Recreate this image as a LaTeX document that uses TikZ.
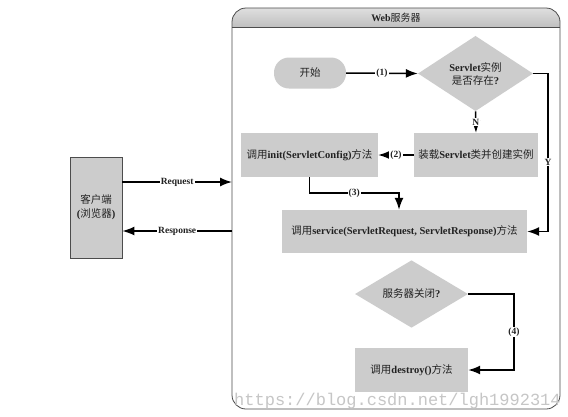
\documentclass[tikz,border=0pt]{standalone}
\usepackage{fontspec}
\setmainfont{Liberation Serif}
\setmonofont{Liberation Mono}
\newfontfamily\cjk{Noto Sans CJK SC}
\usetikzlibrary{shapes.geometric,arrows.meta,calc}
\definecolor{boxgray}{HTML}{CCCCCC}
\definecolor{txt}{HTML}{222222}
\begin{document}
\begin{tikzpicture}[x=1pt,y=-1pt,
  every node/.style={font=\fontsize{10.5}{13}\selectfont, text=txt},
  proc/.style={rectangle, fill=boxgray, inner sep=0pt, align=center},
  dia/.style={diamond, fill=boxgray, inner sep=0pt, align=center},
  arr/.style={line width=1.5pt, -{Latex[length=12pt,width=9pt]}},
  lbl/.style={fill=white, inner sep=1pt, font=\bfseries\fontsize{9.5}{11}\selectfont}]
\fill[white] (0,0) rectangle (568,416);
\useasboundingbox (0,0) rectangle (568,416);
% outer server box
\coordinate (boxTL) at (232,8);
\coordinate (boxBR) at (560,409);
\begin{scope}
\clip[rounded corners=14pt] (boxTL) rectangle (boxBR);
\shade[top color=gray!25, bottom color=gray!50] (232,8) rectangle (560,27);
\draw[gray!60!black, line width=0.8pt] (232,27) -- (560,27);
\end{scope}
\draw[gray!60!black, line width=0.8pt, rounded corners=14pt] (boxTL) rectangle (boxBR);
\node[font=\bfseries\fontsize{10}{12}\selectfont] (title) at (396,17.5) {Web{\cjk\mdseries 服务器}};
% client
\node[proc, draw=gray!60!black, line width=0.8pt, minimum width=52pt, minimum height=101pt] (client) at (96,207.5)
  {{\cjk 客户端}\\[1pt]\bfseries({\cjk\mdseries 浏览器})};
% nodes
\node[proc, rounded corners=15pt, minimum width=72pt, minimum height=31pt] (start) at (310,73) {\cjk 开始};
\node[dia, minimum width=115pt, minimum height=53pt] (exist) at (475.5,73.5)
  {\bfseries Servlet{\cjk\mdseries 实例}\\{\cjk 是否存在}\bfseries ?};
\node[proc, minimum width=124pt, minimum height=44pt] (load) at (476,155)
  {{\cjk 装载}\textbf{Servlet}{\cjk 类并创建实例}};
\node[proc, minimum width=137pt, minimum height=44pt] (init) at (309.5,155)
  {{\cjk 调用}\textbf{init(ServletConfig)}{\cjk 方法}};
\node[proc, minimum width=245pt, minimum height=43pt] (service) at (404.5,231.5)
  {{\cjk 调用}\textbf{service(ServletRequest, ServletResponse)}{\cjk 方法}};
\node[dia, minimum width=113pt, minimum height=48pt] (close) at (411.5,294)
  {{\cjk 服务器关闭}\textbf{?}};
\node[proc, minimum width=113pt, minimum height=44pt] (destroy) at (411.5,370)
  {{\cjk 调用}\textbf{destroy()}{\cjk 方法}};
% request / response
\coordinate (req) at (232,182);
\coordinate (resp) at (232,231);
\draw[arr] (client.east |- req) -- node[lbl]{Request} (req);
\draw[arr] (resp) -- node[lbl]{Response} (client.east |- resp);
% flow
\draw[arr] (start.east) -- node[lbl]{(1)} (exist.west);
\draw[arr] (exist.south) -- node[lbl]{N} (load.north);
\draw[arr] (load.west) -- node[lbl]{(2)} (init.east);
\coordinate (yr) at (548,73.5);
\draw[arr] (exist.east) -- (yr) |- node[lbl, pos=0.28]{Y} (service.east);
\coordinate (c3) at (399,193);
\draw[arr] (init.south) |- node[lbl, pos=0.75]{(3)} (c3) -- (c3 |- service.north);
\coordinate (c4) at (514,294);
\draw[arr] (close.east) -- (c4) |- node[lbl, pos=0.25]{(4)} (destroy.east);
% watermark
\node[anchor=base west, inner sep=0pt, text=gray!45, font=\ttfamily\fontsize{17}{17}\selectfont] (wm) at (234,405) {https://blog.csdn.net/lgh1992314};
\end{tikzpicture}
\end{document}
